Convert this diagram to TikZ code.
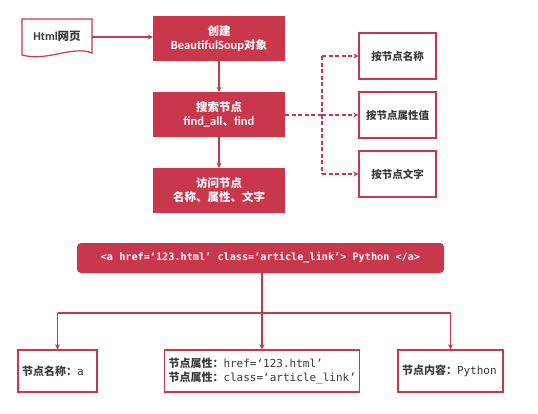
\documentclass[tikz,border=0pt]{standalone}
\usepackage{fontspec}
\setmainfont{Carlito}
\newfontfamily\cjk{Noto Sans CJK SC}
\newfontfamily\mono{DejaVu Sans Mono}
\usetikzlibrary{arrows.meta}
\definecolor{myred}{HTML}{C8374B}
\definecolor{txt}{HTML}{3A3A3A}
\tikzset{
  redbox/.style={fill=myred, draw=none, text=white, minimum width=132pt, minimum height=45pt, align=center, font=\bfseries\fontsize{12.5}{14}\selectfont},
  wbox/.style={draw=myred, line width=1.3pt, fill=white, text=txt, align=center, font=\bfseries\fontsize{10.5}{13}\selectfont},
  conn/.style={draw=myred, line width=1.1pt},
  arr/.style={conn, -{Stealth[length=5pt,width=5pt]}},
  darr/.style={conn, dashed, dash pattern=on 4pt off 2.5pt, -{Stealth[length=5pt,width=5pt]}},
}
\begin{document}
\begin{tikzpicture}[x=1pt,y=-1pt]
\useasboundingbox (0,0) rectangle (538,413);
% document shape
\draw[myred, line width=1.2pt, fill=white] (22,19) -- (92,19) -- (92,53) .. controls (72,45) and (48,62) .. (22,55) -- cycle;
\node[text=txt, font=\bfseries\fontsize{12}{14}\selectfont] (html) at (57,36) {Html{\cjk\fontsize{11.5}{14}\selectfont 网页}};
\coordinate (htmlE) at (92,37);
% main column
\node[redbox] (b1) at (219,38.5) {{\cjk\fontsize{11.5}{14}\selectfont 创建}\\BeautifulSoup{\cjk\fontsize{11.5}{14}\selectfont 对象}};
\node[redbox] (b2) at (219,114.5) {{\cjk\fontsize{11.5}{14}\selectfont 搜索节点}\\find\_all{\cjk\fontsize{11.5}{14}\selectfont 、}find};
\node[redbox] (b3) at (219,190.5) {{\cjk\fontsize{11.5}{14}\selectfont 访问节点}\\{\cjk\fontsize{11.5}{14}\selectfont 名称、属性、文字}};
\draw[arr] (htmlE) -- (htmlE -| b1.west);
\draw[arr] (b1) -- (b2);
\draw[arr] (b2) -- (b3);
% right column
\node[wbox, minimum width=77pt, minimum height=46pt] (r1) at (397.5,56) {{\cjk 按节点名称}};
\node[wbox, minimum width=77pt, minimum height=46pt] (r2) at (397.5,115) {{\cjk 按节点属性值}};
\node[wbox, minimum width=77pt, minimum height=46pt] (r3) at (397.5,174) {{\cjk 按节点文字}};
\coordinate (j) at (322,115);
\draw[conn, dashed, dash pattern=on 4pt off 2.5pt] (b2.east |- j) -- (j);
\draw[conn, dashed, dash pattern=on 4pt off 2.5pt] (j |- r1.west) -- (j |- r3.west);
\draw[darr] (j |- r1.west) -- (r1.west);
\draw[darr] (j) -- (r2.west);
\draw[darr] (j |- r3.west) -- (r3.west);
% bottom tree
\node[fill=myred, rounded corners=4pt, minimum width=367pt, minimum height=30pt, text=white, font=\mono\bfseries\fontsize{10.2}{12}\selectfont] (top) at (260.5,258) {<a href=‘123.html’ class=‘article\_link’> Python </a>};
\node[wbox, minimum width=79pt, minimum height=42pt, text width=71pt, align=left, font=\bfseries\fontsize{11}{14}\selectfont] (c1) at (57.5,371) {{\cjk 节点名称：}{\mono\mdseries a}};
\node[wbox, minimum width=195pt, minimum height=42pt, text width=187pt, align=left, font=\bfseries\fontsize{11}{14}\selectfont] (c2) at (262,371) {{\cjk 节点属性：}{\mono\mdseries href=‘123.html’}\\{\cjk 节点属性：}{\mono\mdseries class=‘article\_link’}};
\node[wbox, minimum width=105pt, minimum height=42pt, text width=97pt, align=left, font=\bfseries\fontsize{11}{14}\selectfont] (c3) at (450.5,371) {{\cjk 节点内容：}{\mono\mdseries Python}};
\coordinate (h) at (262,313);
\draw[conn] (c1.north |- h) -- (c3.north |- h);
\draw[arr] (top.south -| c2.north) -- (c2.north);
\draw[arr] (c1.north |- h) -- (c1.north);
\draw[arr] (c3.north |- h) -- (c3.north);
\end{tikzpicture}
\end{document}
